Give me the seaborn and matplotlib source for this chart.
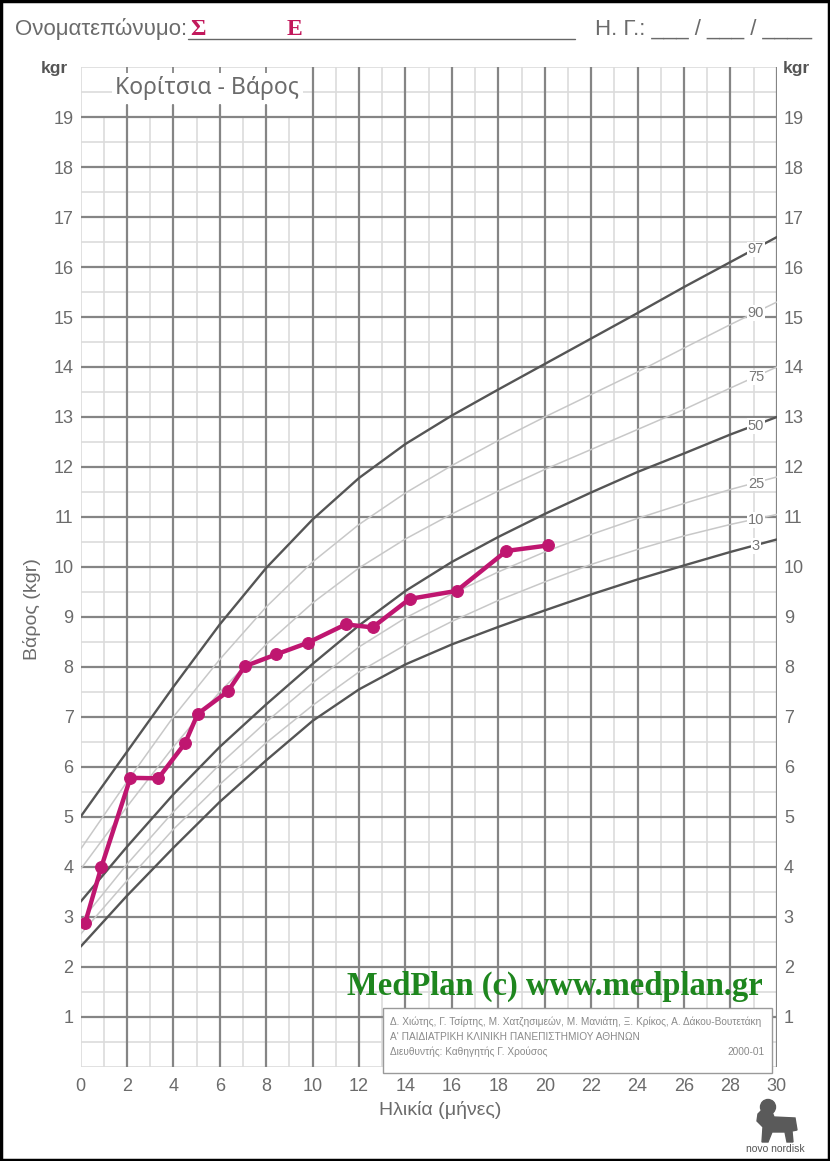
"""Girls weight-for-age growth chart (0-30 months) with one child's measurements."""

import matplotlib

matplotlib.use("Agg")
import matplotlib.pyplot as plt
import pandas as pd
import seaborn as sns
from matplotlib.patches import Ellipse, Polygon, Rectangle

# percentile curves (age in months -> kg)
CURVE_AGE = [0, 2, 4, 6, 8, 10, 12, 14, 16, 18, 20, 22, 24, 26, 28, 30]
P97 = [5.0, 6.3, 7.6, 8.85, 9.98, 10.95, 11.78, 12.46, 13.03, 13.55, 14.06, 14.57, 15.08, 15.6, 16.1, 16.6]
P90 = [4.35, 5.7, 7.0, 8.15, 9.2, 10.1, 10.85, 11.48, 12.03, 12.53, 13.0, 13.45, 13.9, 14.38, 14.85, 15.3]
P75 = [3.95, 5.2, 6.4, 7.5, 8.45, 9.28, 9.98, 10.56, 11.06, 11.52, 11.95, 12.35, 12.75, 13.15, 13.58, 14.0]
P50 = [3.3, 4.4, 5.45, 6.4, 7.25, 8.06, 8.83, 9.52, 10.1, 10.6, 11.06, 11.49, 11.9, 12.27, 12.65, 13.0]
P25 = [2.9, 4.05, 5.1, 6.05, 6.9, 7.68, 8.4, 8.98, 9.46, 9.9, 10.3, 10.65, 10.97, 11.27, 11.55, 11.8]
P10 = [2.65, 3.72, 4.75, 5.65, 6.48, 7.23, 7.9, 8.44, 8.91, 9.33, 9.7, 10.05, 10.35, 10.62, 10.85, 11.05]
P3 = [2.4, 3.42, 4.38, 5.3, 6.13, 6.92, 7.55, 8.05, 8.45, 8.8, 9.13, 9.45, 9.75, 10.03, 10.3, 10.55]
PERCENTILES = ["97", "90", "75", "50", "25", "10", "3"]
DARK_PERCENTILES = ["97", "50", "3"]

# the child's measurements
CHILD_AGE = [0.2, 0.9, 2.15, 3.35, 4.5, 5.05, 6.35, 7.07, 8.43, 9.78, 11.42, 12.58, 14.18, 16.2, 18.35, 20.15]
CHILD_WEIGHT = [2.88, 4.0, 5.78, 5.77, 6.47, 7.06, 7.51, 8.01, 8.25, 8.48, 8.85, 8.79, 9.36, 9.52, 10.32, 10.43]

X_TICKS = list(range(0, 31, 2))
Y_TICKS = list(range(1, 20))

TEXT_GREY = "#6b6b6b"
CHILD_COLOR = "#bf1670"

sns.set_theme(style="white")
plt.rcParams["font.family"] = ["Liberation Sans", "DejaVu Sans"]

curves = pd.DataFrame(
    {
        "age": CURVE_AGE * len(PERCENTILES),
        "weight": P97 + P90 + P75 + P50 + P25 + P10 + P3,
        "pct": [p for p in PERCENTILES for _ in CURVE_AGE],
    }
)
child = pd.DataFrame({"age": CHILD_AGE, "weight": CHILD_WEIGHT})

fig = plt.figure(figsize=(8.3, 11.61), dpi=100)
ax = fig.add_axes([0.097, 0.0812, 0.839, 0.861])
ax.set_xlim(0, 30)
ax.set_ylim(0, 20)

# millimetre-style grid: heavy lines every 2 months / 1 kg, light in between
major = "#858585"
minor = "#dcdcdc"
for m in range(0, 31):
    heavy = m % 2 == 0 and m > 0
    top = 1.0 if m >= 10 or m == 0 else 19 / 20
    if heavy and m < 10:
        top = 19.25 / 20
        ax.axvline(m, ymin=19.85 / 20, ymax=1.0, color=major, lw=1.3, zorder=1)
    ax.axvline(m, ymin=0, ymax=top, color=major if heavy else minor,
               lw=1.6 if heavy else 1.2, zorder=1 if heavy else 0)
for k in range(0, 41):
    w = k / 2
    heavy = k % 2 == 0 and 0 < w < 20
    ax.axhline(w, color=major if heavy else minor, lw=1.6 if heavy else 1.2,
               zorder=1 if heavy else 0)

for pct in PERCENTILES:
    dark = pct in DARK_PERCENTILES
    sub = curves[curves["pct"] == pct]
    sns.lineplot(
        data=sub, x="age", y="weight", ax=ax,
        color="#555555" if dark else "#c8c8c8", lw=1.7 if dark else 1.1,
        zorder=3, legend=False,
    )
    w28 = sub.loc[sub["age"] == 28, "weight"].iloc[0]
    w30 = sub.loc[sub["age"] == 30, "weight"].iloc[0]
    ax.text(29.1, w28 + (w30 - w28) * 0.55 - 0.02, pct, fontsize=10.5,
            color="#777777", ha="center", va="center", zorder=4,
            bbox=dict(facecolor="white", edgecolor="none", pad=0.5))

sns.lineplot(
    data=child, x="age", y="weight", ax=ax, color=CHILD_COLOR, lw=3.2,
    marker="o", markersize=8.5, markeredgecolor=CHILD_COLOR, zorder=6, legend=False,
)

ax.text(1.5, 19.58, "Κορίτσια - Βάρος", fontsize=16.5, color=TEXT_GREY,
        family=["Noto Sans", "DejaVu Sans"], va="center", zorder=5,
        bbox=dict(facecolor="white", edgecolor="none", pad=2.5))

# credits box and watermark
ax.add_patch(Rectangle((13.05, -0.12), 16.75, 1.3, facecolor="white",
                       edgecolor="#9a9a9a", lw=1.0, zorder=5, clip_on=False))
credit_font = dict(fontsize=7.3, color="#8a8a8a", zorder=6, va="center")
ax.text(13.35, 0.9, "Δ. Χιώτης, Γ. Τσίρτης, Μ. Χατζησιμεών, Μ. Μανιάτη, Ξ. Κρίκος, Α. Δάκου-Βουτετάκη", **credit_font)
ax.text(13.35, 0.6, "Α' ΠΑΙΔΙΑΤΡΙΚΗ ΚΛΙΝΙΚΗ ΠΑΝΕΠΙΣΤΗΜΙΟΥ ΑΘΗΝΩΝ", **credit_font)
ax.text(13.35, 0.3, "Διευθυντής: Καθηγητής Γ. Χρούσος", **credit_font)
ax.text(29.45, 0.3, "2000-01", ha="right", **credit_font)
ax.text(20.45, 1.6, "MedPlan (c) www.medplan.gr", fontsize=23.5, fontweight="bold",
        color="#1e861e", family=["Liberation Serif", "DejaVu Serif"],
        ha="center", va="center", zorder=6)

ax.set_xticks(X_TICKS)
ax.set_yticks(Y_TICKS)
ax.tick_params(axis="both", length=0, labelsize=13, labelcolor=TEXT_GREY)
ax.tick_params(axis="x", pad=8)
ax.tick_params(axis="y", pad=5, labelright=True, right=False)
ax.set_xlabel("")
ax.set_ylabel("")
for spine in ax.spines.values():
    spine.set_visible(False)

fig.text(0.53, 0.044, "Ηλικία (μήνες)", fontsize=14, color=TEXT_GREY, ha="center", va="center")
fig.text(0.038, 0.475, "Βάρος (kgr)", fontsize=14, color=TEXT_GREY, rotation=90,
         ha="center", va="center")
fig.text(0.065, 0.941, "kgr", fontsize=12.5, fontweight="bold", color="#555555",
         ha="center", va="center")
fig.text(0.96, 0.941, "kgr", fontsize=12.5, fontweight="bold", color="#555555",
         ha="center", va="center")

# header line
fig.text(0.018, 0.975, "Ονοματεπώνυμο:", fontsize=16, color=TEXT_GREY, va="center")
fig.text(0.229, 0.9745, "Σ", fontsize=17, fontweight="bold", color="#c2185b",
         family=["Liberation Serif", "DejaVu Serif"], va="center")
fig.text(0.345, 0.9745, "Ε", fontsize=17, fontweight="bold", color="#c2185b",
         family=["Liberation Serif", "DejaVu Serif"], va="center")
fig.add_artist(plt.Line2D([0.227, 0.693], [0.966, 0.966], color="#666666", lw=1.0))
fig.text(0.717, 0.975, "Η. Γ.: ___ / ___ / ____", fontsize=16, color=TEXT_GREY, va="center")

# novo nordisk mark (rough bull silhouette + wordmark)
W, H = 830.0, 1161.0
bull = "#5a5a5a"
fig.add_artist(Ellipse((768 / W, 1 - 1107 / H), 15 / W, 15 / H,
                       transform=fig.transFigure, color=bull))
body_px = [(762, 1110), (772, 1112), (774, 1117), (795, 1118), (797, 1130), (792, 1131),
           (793, 1142), (787, 1142), (785, 1132), (772, 1132), (768, 1142), (762, 1142),
           (763, 1127), (757, 1121), (758, 1114)]
fig.add_artist(Polygon([(x / W, 1 - y / H) for x, y in body_px], closed=True,
                       transform=fig.transFigure, color=bull))
fig.text(775 / W, 1 - 1149 / H, "novo nordisk", fontsize=7.5, color="#555555",
         ha="center", va="center")

fig.add_artist(Rectangle((0.0015, 0.001), 0.997, 0.998, transform=fig.transFigure,
                         facecolor="none", edgecolor="black", lw=2.5))

fig.savefig("out.png", dpi=100)
